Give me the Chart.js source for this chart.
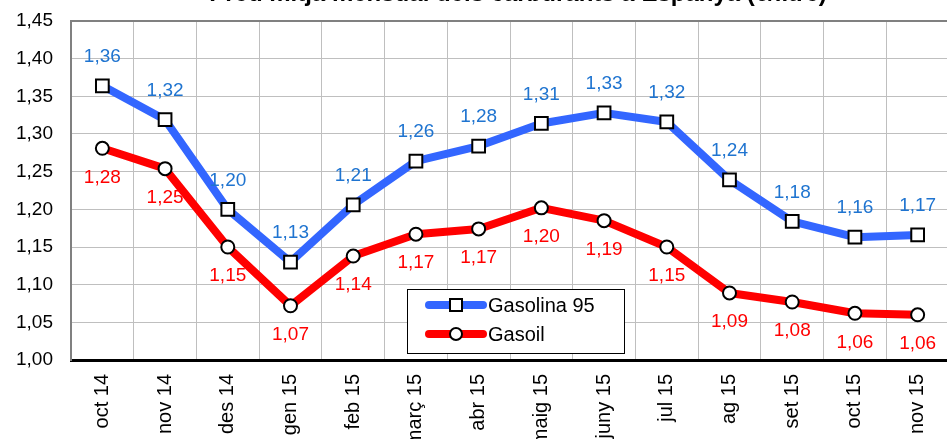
<!DOCTYPE html>
<html>
<head>
<meta charset="utf-8">
<script src="https://cdn.jsdelivr.net/npm/chart.js@4"></script>
<style>
  html, body { margin: 0; padding: 0; overflow: hidden; background: #fff; }
  #wrap { width: 960px; height: 480px; }
</style>
</head>
<body>
<div id="wrap"><canvas id="preusChart" width="960" height="480"></canvas></div>
<script>
(() => {
    const titol = "Preu mitjà mensual dels carburants a Espanya (€/litre)";
    const mesos = ["oct 14", "nov 14", "des 14", "gen 15", "feb 15", "març 15", "abr 15",
                   "maig 15", "juny 15", "jul 15", "ag 15", "set 15", "oct 15", "nov 15"];
    const gasolina95 = [1.364, 1.319, 1.200, 1.130, 1.206, 1.264, 1.284,
                        1.314, 1.328, 1.316, 1.239, 1.184, 1.163, 1.166];
    const gasoil = [1.281, 1.254, 1.150, 1.072, 1.138, 1.167, 1.174,
                    1.202, 1.185, 1.150, 1.089, 1.077, 1.062, 1.060];
    const eixY = { min: 1.00, max: 1.45, pas: 0.05 };

    const BLAU = "#3366FF", VERMELL = "#FF0000";
    const BLAU_TEXT = "#1F74D0";
    const FONT = "Arial, 'Liberation Sans', sans-serif";

    const fmt = (v) => v.toFixed(2).replace(".", ",");

    // etiquetes de valor: blau a sobre, vermell a sota
    const etiquetes = {
        id: "etiquetes",
        afterDatasetsDraw(chart) {
            const ctx = chart.ctx;
            ctx.save();
            ctx.font = "19px " + FONT;
            ctx.textAlign = "center";
            ctx.textBaseline = "middle";
            chart.data.datasets.forEach((ds, i) => {
                const meta = chart.getDatasetMeta(i);
                ctx.fillStyle = i === 0 ? BLAU_TEXT : VERMELL;
                meta.data.forEach((pt, j) => {
                    const dy = i === 0 ? -29 : 29;
                    ctx.fillText(fmt(ds.data[j]), pt.x, pt.y + dy);
                });
            });
            ctx.restore();
        }
    };

    // llegenda dins l'àrea del gràfic, amb línia + marcador
    const llegenda = {
        id: "llegenda",
        afterDraw(chart) {
            const ctx = chart.ctx;
            const x0 = 407, y0 = 289, w = 217, h = 64;
            ctx.save();
            ctx.fillStyle = "#fff";
            ctx.fillRect(x0, y0, w, h);
            ctx.strokeStyle = "#000";
            ctx.lineWidth = 1;
            ctx.strokeRect(x0 + 0.5, y0 + 0.5, w, h);
            const files = [
                { text: "Gasolina 95", color: BLAU, forma: "rect", y: y0 + 16 },
                { text: "Gasoil", color: VERMELL, forma: "circle", y: y0 + 45 }
            ];
            files.forEach((f) => {
                ctx.strokeStyle = f.color;
                ctx.lineWidth = 8;
                ctx.lineCap = "round";
                ctx.beginPath();
                ctx.moveTo(x0 + 22, f.y);
                ctx.lineTo(x0 + 76, f.y);
                ctx.stroke();
                ctx.fillStyle = "#fff";
                ctx.strokeStyle = "#000";
                ctx.lineWidth = 2;
                ctx.beginPath();
                if (f.forma === "rect") {
                    ctx.rect(x0 + 43, f.y - 6, 12, 12);
                } else {
                    ctx.arc(x0 + 49, f.y, 6, 0, Math.PI * 2);
                }
                ctx.fill();
                ctx.stroke();
                ctx.fillStyle = "#000";
                ctx.font = "20px " + FONT;
                ctx.textAlign = "left";
                ctx.textBaseline = "middle";
                ctx.fillText(f.text, x0 + 81, f.y + 1);
            });
            ctx.restore();
        }
    };

    // títol, retallat per la vora superior com a l'original
    const titolPlugin = {
        id: "titol",
        afterDraw(chart) {
            const ctx = chart.ctx;
            ctx.save();
            ctx.font = "bold 24px " + FONT;
            ctx.fillStyle = "#000";
            ctx.textAlign = "center";
            ctx.textBaseline = "alphabetic";
            ctx.fillText(titol, 518, 1);
            ctx.restore();
        }
    };

    const ctx = document.getElementById("preusChart");
    new Chart(ctx, {
        type: "line",
        data: {
            labels: mesos,
            datasets: [{
                label: "Gasolina 95",
                data: gasolina95,
                borderColor: BLAU,
                borderWidth: 8,
                borderCapStyle: "round",
                borderJoinStyle: "round",
                pointStyle: "rect",
                pointRadius: 9,
                pointBorderWidth: 2,
                pointBorderColor: "#000",
                pointBackgroundColor: "#fff",
                tension: 0
            }, {
                label: "Gasoil",
                data: gasoil,
                borderColor: VERMELL,
                borderWidth: 8,
                borderCapStyle: "round",
                borderJoinStyle: "round",
                pointStyle: "circle",
                pointRadius: 6.5,
                pointBorderWidth: 2,
                pointBorderColor: "#000",
                pointBackgroundColor: "#fff",
                tension: 0
            }]
        },
        options: {
            responsive: false,
            animation: false,
            layout: { padding: { top: 21, right: 7, left: 0, bottom: 0 } },
            plugins: {
                legend: { display: false },
                title: { display: false },
                tooltip: { enabled: false }
            },
            scales: {
                x: {
                    offset: true,
                    grid: { offset: true, color: "#BFBFBF", lineWidth: 1, drawTicks: false },
                    border: { color: "#000", width: 3 },
                    ticks: {
                        color: "#000",
                        font: { family: FONT, size: 20 },
                        minRotation: 90,
                        maxRotation: 90,
                        padding: 14,
                        autoSkip: false
                    },
                    afterFit: (scale) => {
                        scale.height = 120;
                        scale.paddingLeft = 0;
                        scale.paddingRight = 0;
                    }
                },
                y: {
                    min: eixY.min,
                    max: eixY.max,
                    grid: {
                        color: (c) => c.tick && Math.abs(c.tick.value - eixY.max) < 1e-6 ? "#808080" : "#BFBFBF",
                        lineWidth: (c) => c.tick && Math.abs(c.tick.value - eixY.max) < 1e-6 ? 2 : 1,
                        drawTicks: false
                    },
                    border: { color: "#808080", width: 2 },
                    ticks: {
                        stepSize: eixY.pas,
                        color: "#000",
                        font: { family: FONT, size: 19 },
                        padding: 18,
                        callback: (v) => fmt(v)
                    },
                    afterFit: (scale) => {
                        scale.width = 71;
                        scale.paddingTop = 0;
                        scale.paddingBottom = 0;
                    }
                }
            }
        },
        plugins: [etiquetes, llegenda, titolPlugin]
    });
})();
</script>
</body>
</html>
